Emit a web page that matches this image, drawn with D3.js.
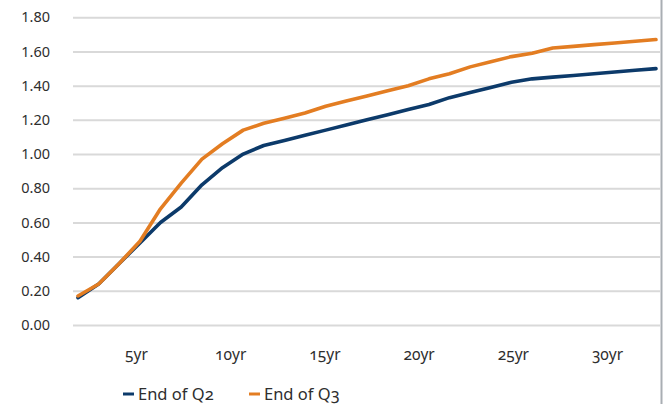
<!DOCTYPE html>
<html>
<head>
<meta charset="utf-8">
<script src="https://cdn.jsdelivr.net/npm/d3@7/dist/d3.min.js"></script>
<style>
  html, body { margin: 0; padding: 0; background: #fff; }
  svg { display: block; font-family: "Noto Sans", "Open Sans", sans-serif; }
  .onum { font-feature-settings: "onum" 1; font-variant-numeric: oldstyle-nums; }
</style>
</head>
<body>
<svg id="chart" width="665" height="404"></svg>
<script>
// ---- data ----
const maturities = [1.92, 3.02, 4.11, 5.21, 6.30, 7.40, 8.50, 9.59, 10.69, 11.78, 12.88, 13.97, 15.07, 16.16, 17.26, 18.36, 19.45, 20.55, 21.64, 22.74, 23.83, 24.93, 26.03, 27.12, 28.22, 29.31, 30.41, 31.50, 32.60];
const endQ2 = [0.16, 0.24, 0.36, 0.48, 0.60, 0.69, 0.82, 0.92, 1.00, 1.05, 1.08, 1.11, 1.14, 1.17, 1.20, 1.23, 1.26, 1.29, 1.33, 1.36, 1.39, 1.42, 1.44, 1.45, 1.46, 1.47, 1.48, 1.49, 1.50];
const endQ3 = [0.17, 0.24, 0.36, 0.49, 0.68, 0.83, 0.97, 1.06, 1.14, 1.18, 1.21, 1.24, 1.28, 1.31, 1.34, 1.37, 1.40, 1.44, 1.47, 1.51, 1.54, 1.57, 1.59, 1.62, 1.63, 1.64, 1.65, 1.66, 1.67];
const xTickValues = [5, 10, 15, 20, 25, 30];
const xTickLabels = ["5yr", "10yr", "15yr", "20yr", "25yr", "30yr"];
const yTickValues = [0, 0.2, 0.4, 0.6, 0.8, 1.0, 1.2, 1.4, 1.6, 1.8];
const seriesNames = ["End of Q2", "End of Q3"];
const seriesColors = ["#0c3a6a", "#e37d22"];

const svg = d3.select("#chart");
const plotLeft = 73, plotRight = 660;

const x = d3.scaleLinear().domain([5, 30]).range([136, 607]);
const y = d3.scaleLinear().domain([0, 1.8]).range([325, 17.3]);

// gridlines + y labels
const yAxis = d3.axisLeft(y).tickValues(yTickValues).tickFormat(d3.format(".2f"))
  .tickSize(-(plotRight - plotLeft)).tickPadding(23);
const gy = svg.append("g").attr("transform", `translate(${plotLeft},0)`).call(yAxis);
gy.attr("font-family", null);
gy.select(".domain").remove();
gy.selectAll(".tick line").attr("stroke", "#d9d9d9").attr("stroke-width", 2);
gy.selectAll(".tick text").attr("fill", "#2e2e2e").style("font-size", "14.5px")
  .style("font-family", "'Noto Sans', sans-serif");

// x labels
const xAxis = d3.axisBottom(x).tickValues(xTickValues)
  .tickFormat((d, i) => xTickLabels[i]).tickSize(0).tickPadding(0);
const gx = svg.append("g").attr("transform", `translate(0,349)`).call(xAxis);
gx.attr("font-family", null);
gx.select(".domain").remove();
gx.selectAll(".tick text").attr("fill", "#2e2e2e").attr("class", "onum")
  .style("font-family", "'Noto Sans', sans-serif")
  .style("font-size", "15.5px").attr("dy", "0.71em");

// lines
const series = [endQ2, endQ3];
const line = d3.line().x((d, i) => x(maturities[i])).y(d => y(d));
series.forEach((s, k) => {
  svg.append("path").datum(s)
    .attr("d", line)
    .attr("fill", "none")
    .attr("stroke", seriesColors[k])
    .attr("stroke-width", 3.6)
    .attr("stroke-linejoin", "round")
    .attr("stroke-linecap", "round");
});

// right border
svg.append("line").attr("x1", 661.5).attr("x2", 661.5).attr("y1", 0).attr("y2", 404)
  .attr("stroke", "#a9aeb3").attr("stroke-width", 2);

// legend
const legendX = [123, 249];
seriesNames.forEach((n, k) => {
  const g = svg.append("g").attr("transform", `translate(${legendX[k]},394)`);
  g.append("line").attr("x1", 0).attr("x2", 11).attr("y1", 0).attr("y2", 0)
    .attr("stroke", seriesColors[k]).attr("stroke-width", 3);
  g.append("text").attr("x", 15).attr("y", 0).attr("dy", "0.35em")
    .attr("class", "onum").attr("fill", "#2e2e2e").style("font-size", "16.5px").text(n);
});
</script>
</body>
</html>
